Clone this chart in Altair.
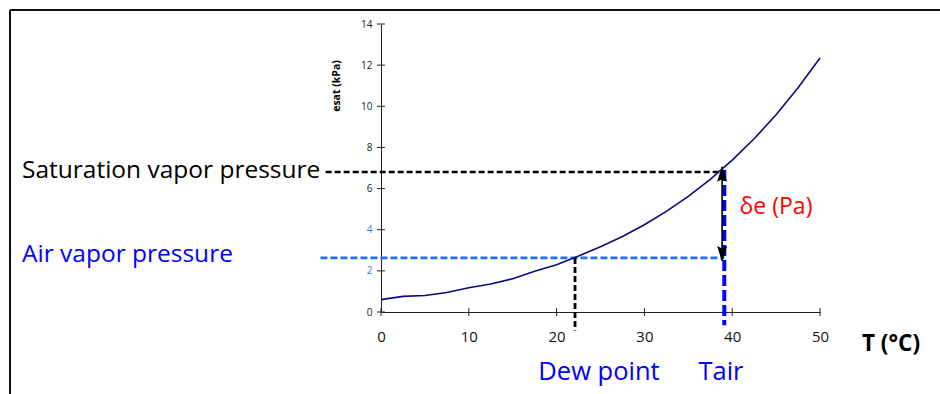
import altair as alt
import pandas as pd

# ---- data ----
temp_c = [0, 2.5, 5, 7.5, 10, 12.5, 15, 17.5, 20, 22.5, 25, 27.5, 30, 32.5, 35, 37.5, 40, 42.5, 45, 47.5, 50]
esat_kpa = [0.60, 0.76, 0.80, 0.95, 1.18, 1.36, 1.62, 1.98, 2.30, 2.72, 3.17, 3.67, 4.24, 4.89, 5.62, 6.45, 7.38, 8.42, 9.59, 10.90, 12.35]

x_ticks = [0, 10, 20, 30, 40, 50]
y_ticks = [0, 2, 4, 6, 8, 10, 12, 14]

sat_level = 6.8      # saturation vapour pressure at Tair
air_level = 2.63     # air vapour pressure
dew_point = 22.1
t_air = 39.1
line_left = -6.3     # dashed guide lines start left of the axis

W, H = 439, 288
FONT = "Open Sans"

curve = pd.DataFrame({"T": temp_c, "e": esat_kpa})

x_sc = alt.Scale(domain=[0, 50], nice=False, zero=False)
y_sc = alt.Scale(domain=[0, 14], nice=False, zero=False)

base = alt.Chart(curve)

line = base.mark_line(color="#0a0a80", strokeWidth=1.6).encode(
    x=alt.X("T:Q", scale=x_sc,
            axis=alt.Axis(values=x_ticks, title=None, grid=False, ticks=False,
                          domainColor="#222", labelFontSize=15, labelColor="#111",
                          labelPadding=17, labelFont=FONT, labelFlush=False)),
    y=alt.Y("e:Q", scale=y_sc,
            axis=alt.Axis(values=y_ticks, title=None, grid=False, ticks=False,
                          domainColor="#222", labelFontSize=10, labelPadding=9,
                          labelFont=FONT, labelFlush=False,
                          labelColor={"condition": {"test": "datum.value == 2 || datum.value == 4",
                                                    "value": "#2f74ff"},
                                      "value": "#222222"})),
)

# crossing tick marks
yt = alt.Chart(pd.DataFrame({"v": y_ticks})).mark_rule(color="#222", strokeWidth=1).encode(
    y=alt.Y("v:Q", scale=y_sc), x=alt.value(-4), x2=alt.value(4))
xt = alt.Chart(pd.DataFrame({"v": x_ticks})).mark_rule(color="#222", strokeWidth=1).encode(
    x=alt.X("v:Q", scale=x_sc), y=alt.value(H - 4), y2=alt.value(H + 4))

def seg(t1, e1, t2, e2, color, width, dash):
    df = pd.DataFrame({"T": [t1], "e": [e1], "T2": [t2], "e2": [e2]})
    return alt.Chart(df).mark_rule(color=color, strokeWidth=width, strokeDash=dash).encode(
        x=alt.X("T:Q", scale=x_sc), y=alt.Y("e:Q", scale=y_sc), x2="T2:Q", y2="e2:Q")

sat_h = seg(line_left, sat_level, t_air - 0.2, sat_level, "#000000", 2.5, [6, 3])
air_h = seg(line_left - 0.6, air_level, t_air, air_level, "#1f6fff", 2.8, [7, 3])
dew_v = seg(dew_point, air_level, dew_point, -0.9, "#000000", 2.8, [6, 3])
tair_v = seg(t_air, 6.9, t_air, -0.65, "#0000ff", 4, [11, 4])
arrow = seg(t_air - 0.25, 7.05, t_air - 0.25, 2.5, "#000000", 1.6, [1, 0])

heads = pd.DataFrame({"T": [t_air - 0.25, t_air - 0.25], "e": [6.72, 2.82],
                      "dir": ["up", "down"]})
head_up = alt.Chart(heads[heads.dir == "up"]).mark_point(
    shape="M0,-1L0.62,1L0,0.7L-0.62,1Z", filled=True, color="#000", size=256, opacity=1).encode(
    x=alt.X("T:Q", scale=x_sc), y=alt.Y("e:Q", scale=y_sc))
head_dn = alt.Chart(heads[heads.dir == "down"]).mark_point(
    shape="M0,1L0.62,-1L0,-0.7L-0.62,-1Z", filled=True, color="#000", size=256, opacity=1).encode(
    x=alt.X("T:Q", scale=x_sc), y=alt.Y("e:Q", scale=y_sc))

def label(text, x, y, color, size, weight="normal", align="left", angle=0):
    df = pd.DataFrame({"t": [text]})
    return alt.Chart(df).mark_text(color=color, fontSize=size, fontWeight=weight, font=FONT,
                                   align=align, baseline="middle", angle=angle).encode(
        text="t:N", x=alt.value(x), y=alt.value(y))

labels = [
    label("Saturation vapor pressure", 22 - 381, 171 - 24, "#000000", 24.5),
    label("Air vapor pressure", 22 - 381, 255 - 24, "#0000ff", 24.5),
    label("Dew point", 599 - 381, 372 - 24, "#0000ff", 25.5, align="center"),
    label("Tair", 721 - 381, 372 - 24, "#0000ff", 25.5, align="center"),
    label("T (°C)", 891 - 381, 344 - 24, "#000000", 22.5, weight="bold", align="center"),
    label("δe (Pa)", 776 - 381, 207 - 24, "#ff0000", 23, align="center"),
    label("esat (kPa)", 337 - 381, 86 - 24, "#000000", 10.5, weight="bold", align="center", angle=270),
]

# frame of the picture
frame_top = alt.Chart(pd.DataFrame({"a": [0]})).mark_rule(color="#111", strokeWidth=2).encode(
    x=alt.value(10 - 381), x2=alt.value(940 - 381), y=alt.value(10 - 24))
frame_left = alt.Chart(pd.DataFrame({"a": [0]})).mark_rule(color="#111", strokeWidth=2).encode(
    x=alt.value(10 - 381), y=alt.value(10 - 24), y2=alt.value(394 - 24))

chart = alt.layer(
    sat_h, air_h, dew_v, line, tair_v, arrow, head_up, head_dn, yt, xt,
    *labels, frame_top, frame_left
).properties(
    width=W, height=H,
    autosize=alt.AutoSizeParams(type="none"),
    padding={"left": 381, "top": 24, "right": 120, "bottom": 82},
    background="white",
).configure_view(stroke=None)

chart.save("out.html", embed_options={"renderer": "svg", "actions": False})
